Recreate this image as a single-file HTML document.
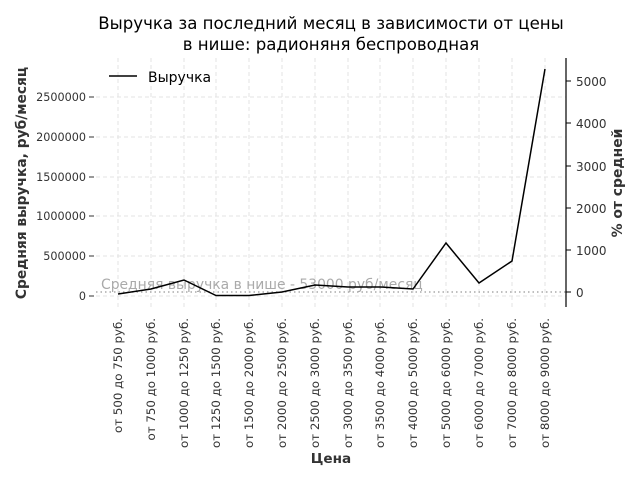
<!DOCTYPE html>
<html><head><meta charset="utf-8"><style>
body{margin:0;background:#fff;}
svg text{font-family:"DejaVu Sans","Liberation Sans",sans-serif;}
</style></head><body>
<svg width="640" height="480" xmlns="http://www.w3.org/2000/svg">
<rect width="640" height="480" fill="#fff"/>
<text x="331" y="29" font-size="16.6" text-anchor="middle" fill="#000">Выручка за последний месяц в зависимости от цены</text>
<text x="331" y="50" font-size="16.6" text-anchor="middle" fill="#000">в нише: радионяня беспроводная</text>
<g stroke="#e3e3e3" stroke-width="1" stroke-dasharray="4,3">
<line x1="96" x2="566" y1="97" y2="97"/><line x1="96" x2="566" y1="137" y2="137"/><line x1="96" x2="566" y1="177" y2="177"/><line x1="96" x2="566" y1="216" y2="216"/><line x1="96" x2="566" y1="256" y2="256"/><line x1="96" x2="566" y1="296" y2="296"/>
<line x1="118" x2="118" y1="58" y2="307"/><line x1="151" x2="151" y1="58" y2="307"/><line x1="184" x2="184" y1="58" y2="307"/><line x1="216" x2="216" y1="58" y2="307"/><line x1="249" x2="249" y1="58" y2="307"/><line x1="282" x2="282" y1="58" y2="307"/><line x1="315" x2="315" y1="58" y2="307"/><line x1="348" x2="348" y1="58" y2="307"/><line x1="380" x2="380" y1="58" y2="307"/><line x1="413" x2="413" y1="58" y2="307"/><line x1="446" x2="446" y1="58" y2="307"/><line x1="479" x2="479" y1="58" y2="307"/><line x1="512" x2="512" y1="58" y2="307"/><line x1="545" x2="545" y1="58" y2="307"/>
</g>
<line x1="96" x2="566" y1="292" y2="292" stroke="#aaa" stroke-width="1.5" stroke-dasharray="1.5,3"/>
<text x="101" y="289" font-size="13.9" fill="#aaa">Средняя выручка в нише - 53000 руб/месяц</text>
<polyline fill="none" stroke="#000" stroke-width="1.5" points="118,294 151,289 184,280 216,295.5 249,295.5 282,292 315,285 348,287 380,287 413,289 446,243 479,283 512,261 545,69"/>
<g font-size="11.2" fill="#333" text-anchor="end">
<text x="86" y="101">2500000</text><text x="86" y="141">2000000</text><text x="86" y="181">1500000</text><text x="86" y="220">1000000</text><text x="86" y="260">500000</text><text x="86" y="300">0</text>
</g>
<g stroke="#333"><line x1="89" x2="94" y1="97" y2="97"/><line x1="89" x2="94" y1="137" y2="137"/><line x1="89" x2="94" y1="177" y2="177"/><line x1="89" x2="94" y1="216" y2="216"/><line x1="89" x2="94" y1="256" y2="256"/><line x1="89" x2="94" y1="296" y2="296"/></g>
<line x1="566" x2="566" y1="58" y2="307" stroke="#000" stroke-width="1.2"/>
<g stroke="#000"><line x1="566" x2="571" y1="81" y2="81"/><line x1="566" x2="571" y1="123" y2="123"/><line x1="566" x2="571" y1="166" y2="166"/><line x1="566" x2="571" y1="208" y2="208"/><line x1="566" x2="571" y1="250" y2="250"/><line x1="566" x2="571" y1="292" y2="292"/></g>
<g font-size="12" fill="#333">
<text x="576" y="86">5000</text><text x="576" y="128">4000</text><text x="576" y="171">3000</text><text x="576" y="213">2000</text><text x="576" y="255">1000</text><text x="576" y="297">0</text>
</g>
<text transform="translate(26,183) rotate(-90)" font-size="13.8" font-weight="bold" fill="#333" text-anchor="middle">Средняя выручка, руб/месяц</text>
<text transform="translate(622,183) rotate(-90)" font-size="13.9" font-weight="bold" fill="#333" text-anchor="middle">% от средней</text>
<line x1="109" x2="137" y1="76" y2="76" stroke="#000" stroke-width="1.5"/>
<text x="148" y="82" font-size="14" fill="#000">Выручка</text>
<g font-size="11.8" fill="#333" text-anchor="end">
<text transform="translate(122,318) rotate(-90)">от 500 до 750 руб.</text>
<text transform="translate(155,318) rotate(-90)">от 750 до 1000 руб.</text>
<text transform="translate(188,318) rotate(-90)">от 1000 до 1250 руб.</text>
<text transform="translate(220,318) rotate(-90)">от 1250 до 1500 руб.</text>
<text transform="translate(253,318) rotate(-90)">от 1500 до 2000 руб.</text>
<text transform="translate(286,318) rotate(-90)">от 2000 до 2500 руб.</text>
<text transform="translate(319,318) rotate(-90)">от 2500 до 3000 руб.</text>
<text transform="translate(352,318) rotate(-90)">от 3000 до 3500 руб.</text>
<text transform="translate(384,318) rotate(-90)">от 3500 до 4000 руб.</text>
<text transform="translate(417,318) rotate(-90)">от 4000 до 5000 руб.</text>
<text transform="translate(450,318) rotate(-90)">от 5000 до 6000 руб.</text>
<text transform="translate(483,318) rotate(-90)">от 6000 до 7000 руб.</text>
<text transform="translate(516,318) rotate(-90)">от 7000 до 8000 руб.</text>
<text transform="translate(549,318) rotate(-90)">от 8000 до 9000 руб.</text>
</g>
<text x="331" y="463" font-size="13.6" font-weight="bold" fill="#333" text-anchor="middle">Цена</text>
</svg>
</body></html>
